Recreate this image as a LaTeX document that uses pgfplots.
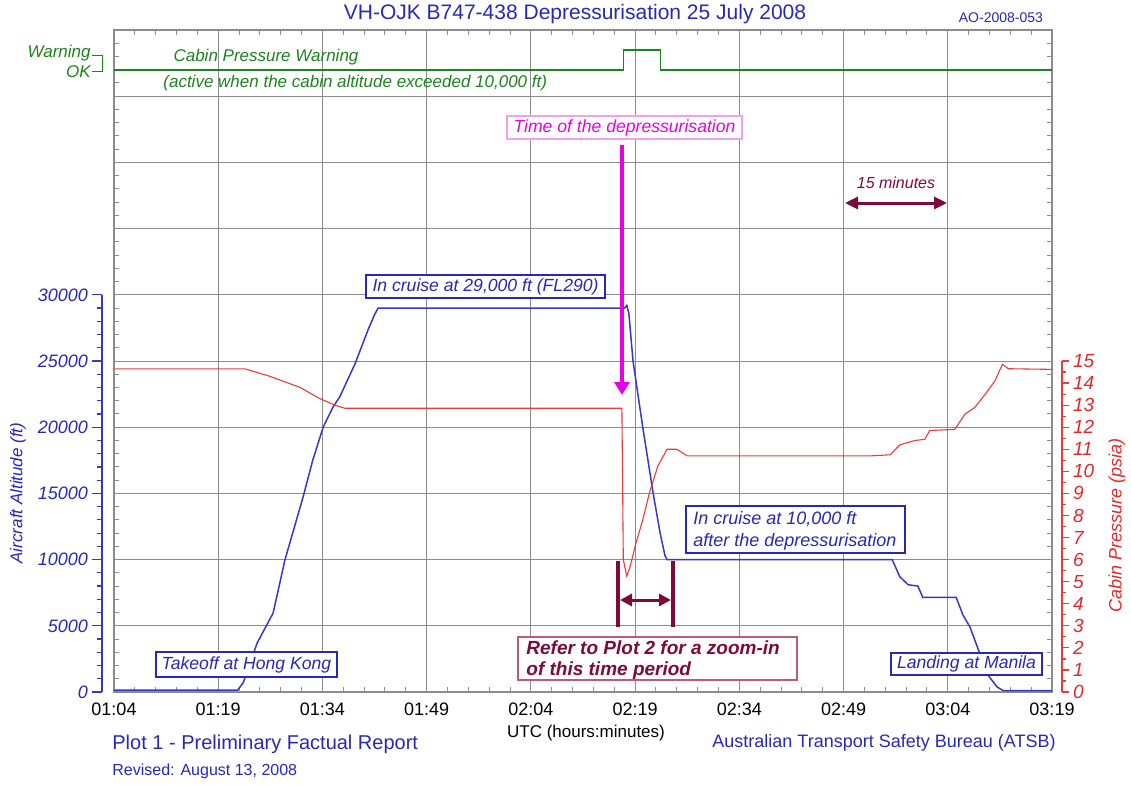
\documentclass[border=0pt]{standalone}
\usepackage{pgfplots}
\pgfplotsset{compat=1.18}
\usepackage{pgfplotstable}
\usepackage{fontspec}
\setmainfont{Liberation Sans}
\usetikzlibrary{arrows.meta}

\definecolor{atsbblue}{RGB}{40,40,180}
\definecolor{blueline}{RGB}{55,55,200}
\definecolor{redline}{RGB}{230,60,60}
\definecolor{redtext}{RGB}{225,40,40}
\definecolor{sgreen}{RGB}{30,130,30}
\definecolor{mag}{RGB}{230,0,230}
\definecolor{magbox}{RGB}{240,160,240}
\definecolor{maroon}{RGB}{125,10,60}
\definecolor{maroonbox}{RGB}{190,90,120}
\definecolor{gridgray}{RGB}{140,140,140}

% time in minutes after 01:04 UTC, altitude in ft
\pgfplotstableread{
t alt
0 150
17.8 150
18.6 700
20.6 3700
22.9 5960
24.6 9970
27.2 14700
28.6 17500
30.1 20000
31.5 21500
32.5 22300
34.7 24800
36.6 27400
37.5 28500
38.0 29000
73.5 29000
73.8 29200
74.1 28600
74.7 25000
76.1 20000
77.6 15000
78.6 12000
79.3 10300
79.6 10000
112.0 10000
113.1 8700
114.3 8100
115.7 8000
116.4 7150
121.2 7150
122.2 5800
123.2 4900
124.4 3200
125.6 1400
127.1 380
128.0 100
135 100
}\altdata

% cabin pressure, psia
\pgfplotstableread{
t p
0 14.64
18.9 14.64
22.5 14.3
26.8 13.8
29.6 13.3
31.8 13.0
33.2 12.86
73.1 12.86
73.3 6.0
73.8 5.25
74.3 5.7
75.0 6.6
76.1 7.8
77.1 9.07
78.3 10.26
79.6 11.0
81.0 11.0
82.5 10.7
108.8 10.7
111.7 10.75
113.1 11.2
115.3 11.4
116.7 11.45
117.4 11.85
121.0 11.9
122.5 12.6
123.9 12.9
125.4 13.5
126.8 14.1
127.5 14.6
127.9 14.85
128.7 14.65
135 14.62
}\pdata

% cabin pressure warning signal (plotted in the top band)
\pgfplotstableread{
t w
0 46980
73.3 46980
73.3 48490
78.6 48490
78.6 46980
135 46980
}\warndata

\begin{document}
\begin{tikzpicture}
% main frame with grid, altitude and warning
\begin{axis}[name=main, scale only axis, width=469pt, height=331pt,
  at={(0pt,0pt)}, anchor=south west,
  xmin=0, xmax=135, ymin=0, ymax=50000,
  scaled ticks=false,
  xtick={0,15,...,135},
  xticklabels={01:04,01:19,01:34,01:49,02:04,02:19,02:34,02:49,03:04,03:19},
  ytick={0,5000,...,50000}, yticklabels={},
  minor x tick num=4, minor y tick num=4,
  tick align=inside, major tick length=2.5pt, minor tick length=2.5pt,
  grid=major, major grid style={gridgray, line width=0.5pt},
  axis line style={gridgray, line width=0.6pt},
  tick style={gridgray, line width=0.5pt},
  xticklabel style={font=\fontsize{9}{9}\selectfont, text=black, yshift=-2pt},
  /pgf/number format/assume math mode=true,
]
\addplot[blueline, line width=0.75pt] table[x=t, y=alt]{\altdata};
\addplot[sgreen, line width=0.6pt] table[x=t, y=w]{\warndata};
\end{axis}
% cabin pressure data (0-30 psi over full height, equals 0-15 on red scale)
\begin{axis}[scale only axis, width=469pt, height=331pt,
  at={(0pt,0pt)}, anchor=south west,
  xmin=0, xmax=135, ymin=0, ymax=30, hide axis]
\addplot[redline, line width=0.55pt] table[x=t, y=p]{\pdata};
\end{axis}
% blue altitude scale
\begin{axis}[scale only axis, width=469pt, height=198.6pt,
  at={(-6pt,0pt)}, anchor=south west,
  xmin=0, xmax=135, ymin=0, ymax=30000,
  scaled ticks=false,
  hide x axis, axis y line*=left,
  axis line style={-, blueline, line width=0.8pt},
  ytick={0,5000,...,30000}, minor y tick num=4,
  tick align=outside, major tick length=5pt, minor tick length=2.5pt,
  tick style={blueline, line width=0.6pt},
  yticklabel style={font=\itshape\fontsize{9}{9}\selectfont, text=atsbblue, xshift=1.5pt},
  /pgf/number format/1000 sep={},
  /pgf/number format/assume math mode=true]
\end{axis}
% red pressure scale
\begin{axis}[scale only axis, width=469pt, height=165.5pt,
  at={(5pt,0pt)}, anchor=south west,
  xmin=0, xmax=135, ymin=0, ymax=15,
  scaled ticks=false,
  hide x axis, axis y line*=right,
  axis line style={-, redline, line width=0.8pt},
  ytick={0,1,...,15}, minor y tick num=1,
  tick align=outside, major tick length=3.5pt, minor tick length=2pt,
  tick style={redline, line width=0.6pt},
  yticklabel style={font=\itshape\fontsize{9.5}{9.5}\selectfont, text=redtext, xshift=-1.5pt},
  /pgf/number format/assume math mode=true]
\end{axis}

% annotations, in pixel units of the reference (origin top-left)
\begin{scope}[shift={(-57pt,346pt)}, x=0.5pt, y=-0.5pt]
\node[atsbblue, font=\fontsize{10.5}{10.5}\selectfont] at (575,14) {VH-OJK B747-438 Depressurisation 25 July 2008};
\node[atsbblue, font=\fontsize{7}{7}\selectfont, anchor=east] at (1050,18) {AO-2008-053};
% warning labels
\node[sgreen, font=\itshape\fontsize{8.5}{8.5}\selectfont, anchor=east, inner sep=0.5pt] at (92,53) {Warning};
\node[sgreen, font=\itshape\fontsize{8.5}{8.5}\selectfont, anchor=east, inner sep=0.5pt] at (92,72) {OK};
\draw[sgreen, line width=0.5pt] (92,55) -- (103,55) -- (103,71) -- (92,71);
\node[sgreen, font=\itshape\fontsize{8.5}{8.5}\selectfont] at (266,57) {Cabin Pressure Warning};
\node[sgreen, font=\itshape\fontsize{8.5}{8.5}\selectfont, anchor=west, inner sep=0pt] at (163,83) {(active when the cabin altitude exceeded 10,000 ft)};
% time of depressurisation
\draw[magbox, fill=white, line width=0.6pt] (507,116) rectangle (742,139);
\node[mag, font=\itshape\fontsize{8.8}{8.8}\selectfont] at (624.5,127.5) {Time of the depressurisation};
\draw[mag, line width=2pt, -{Triangle[width=7.5pt,length=6.5pt]}] (622,145) -- (622,395);
% cruise at FL290
\draw[atsbblue, fill=white, line width=0.6pt] (366,275) rectangle (605,298);
\node[atsbblue, font=\itshape\fontsize{8.8}{8.8}\selectfont] at (485.5,286.5) {In cruise at 29,000 ft (FL290)};
% 15 minutes
\node[maroon, font=\itshape\fontsize{8}{8}\selectfont] at (896,183) {15 minutes};
\draw[maroon, line width=1.5pt, {Triangle[width=6pt,length=6.5pt]}-{Triangle[width=6pt,length=6.5pt]}] (845,203) -- (947,203);
% cruise at 10,000
\draw[atsbblue, fill=white, line width=0.6pt] (686,506) rectangle (905,553);
\node[atsbblue, font=\itshape\fontsize{9}{9}\selectfont, anchor=west, inner sep=0pt] at (693,519) {In cruise at 10,000 ft};
\node[atsbblue, font=\itshape\fontsize{9}{9}\selectfont, anchor=west, inner sep=0pt] at (693,542) {after the depressurisation};
% zoom-in bracket
\draw[maroon, line width=2pt] (618,561) -- (618,627);
\draw[maroon, line width=2pt] (673,561) -- (673,627);
\draw[maroon, line width=1.5pt, {Triangle[width=6pt,length=6pt]}-{Triangle[width=6pt,length=6pt]}] (620,600) -- (671,600);
\draw[maroonbox, fill=white, line width=0.6pt] (518,637) rectangle (797,680);
\node[maroon, font=\bfseries\itshape\fontsize{9.5}{9.5}\selectfont, anchor=west, inner sep=0pt] at (526,648) {Refer to Plot 2 for a zoom-in};
\node[maroon, font=\bfseries\itshape\fontsize{9.5}{9.5}\selectfont, anchor=west, inner sep=0pt] at (526,671) {of this time period};
% takeoff / landing
\draw[atsbblue, fill=white, line width=0.6pt] (156,652) rectangle (337,677);
\node[atsbblue, font=\itshape\fontsize{8.8}{8.8}\selectfont] at (246.5,664.5) {Takeoff at Hong Kong};
\draw[atsbblue, fill=white, line width=0.6pt] (891,653) rectangle (1042,675);
\node[atsbblue, font=\itshape\fontsize{8.8}{8.8}\selectfont] at (966.5,664) {Landing at Manila};
% axis titles
\node[atsbblue, rotate=90, font=\itshape\fontsize{8.5}{8.5}\selectfont] at (18,493) {Aircraft Altitude (ft)};
\node[redtext, rotate=90, font=\itshape\fontsize{9}{9}\selectfont] at (1117,525) {Cabin Pressure (psia)};
\node[black, font=\fontsize{8.5}{8.5}\selectfont] at (586,733) {UTC (hours:minutes)};
% footer
\node[atsbblue, font=\fontsize{10}{10}\selectfont, anchor=west, inner sep=0pt] at (112,744) {Plot 1 - Preliminary Factual Report};
\node[atsbblue, font=\fontsize{8}{8}\selectfont, anchor=west, inner sep=0pt] at (112,771) {Revised: August 13, 2008};
\node[atsbblue, font=\fontsize{9}{9}\selectfont, anchor=west, inner sep=0pt] at (712,743) {Australian Transport Safety Bureau (ATSB)};
\end{scope}
\pgfresetboundingbox
\path[use as bounding box] (-57pt,-46pt) rectangle (508.5pt,346pt);
\end{tikzpicture}
\end{document}
